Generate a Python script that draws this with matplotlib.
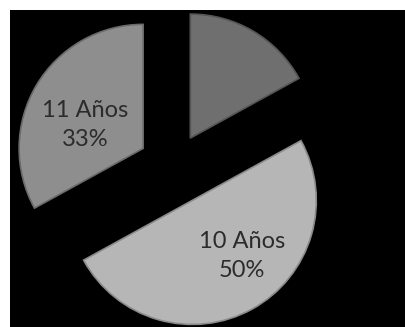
import matplotlib
matplotlib.use('Agg')
import matplotlib.pyplot as plt

# datos del grafico
edades = ['', '10 Años', '11 Años']
porcentajes = [17, 50, 33]
colores = ['#6f6f6f', '#b6b6b6', '#8e8e8e']
bordes = ['#555555', '#8a8a8a', '#6a6a6a']
separacion = [0.265, 0.313, 0.285]

plt.rcParams['font.family'] = ['Lato', 'DejaVu Sans']

fig = plt.figure(figsize=(4.06, 3.27), dpi=100, facecolor='white')
ax = fig.add_axes([10/406, 0, 396/406, 317/327])

wedges, _ = ax.pie(porcentajes, startangle=90, counterclock=False, colors=colores,
                   explode=separacion, radius=1,
                   wedgeprops=dict(linewidth=1.2))
for w, b in zip(wedges, bordes):
    w.set_edgecolor(b)

# posicion de las etiquetas respecto al centro de cada porcion
desplaz = [(0, 0), (0.4, -0.45), (-0.47, 0.19)]
for w, nombre, p, (dx, dy) in zip(wedges, edades, porcentajes, desplaz):
    if nombre == '':
        continue
    cx, cy = w.center
    ax.text(cx + dx, cy + dy, nombre + '\n' + str(p) + '%', ha='center', va='center',
            fontsize=17, color='#2b2b2b', linespacing=1.45)

ax.set_frame_on(True)
ax.set_facecolor('black')
for s in ax.spines.values():
    s.set_visible(False)
ax.set_aspect('auto')
ax.set_xlim(-1.319, 1.874)
ax.set_ylim(-1.295, 1.261)
ax.set_xticks([])
ax.set_yticks([])

fig.savefig('out.png', dpi=100, facecolor='white')
